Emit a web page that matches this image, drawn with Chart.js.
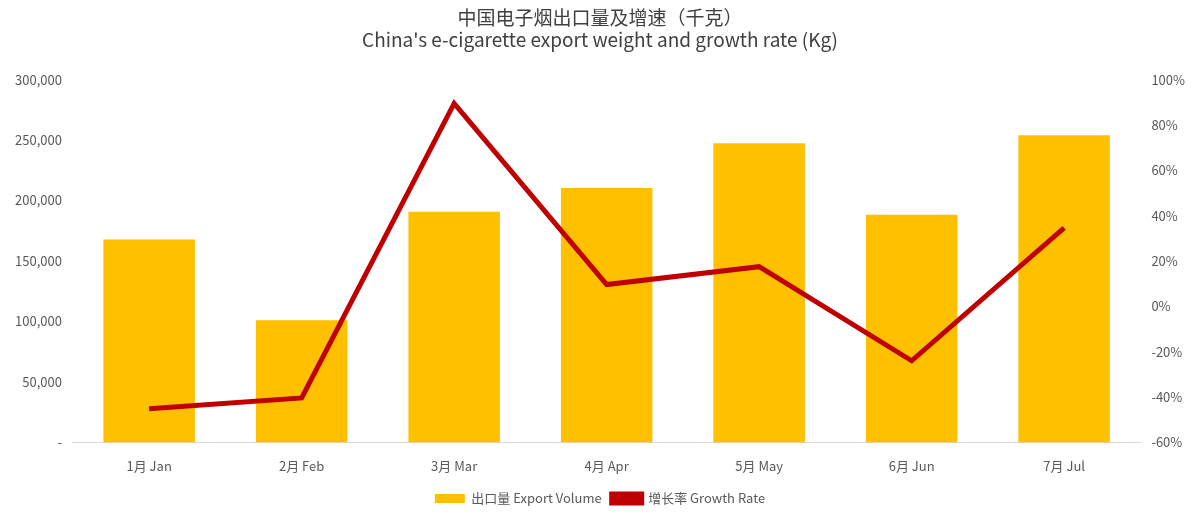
<!DOCTYPE html>
<html><head><meta charset="utf-8">
<script src="https://cdn.jsdelivr.net/npm/chart.js@4"></script>
<style>body{margin:0;background:#fff}#w{width:1200px;height:515px}</style>
</head><body><div id="w"><canvas id="c"></canvas></div>
<script>
const categories=["1月 Jan","2月 Feb","3月 Mar","4月 Apr","5月 May","6月 Jun","7月 Jul"];
const exportVolume=[167700,101000,190700,210400,247400,188200,254000];
const growthRate=[-45.2,-40.4,89.5,9.6,17.5,-24,34.6];
const font="'Noto Sans CJK SC','Noto Sans',sans-serif";
Chart.defaults.font.family=font;
Chart.defaults.color='#595959';
new Chart(document.getElementById('c'),{
type:'bar',
data:{labels:categories,datasets:[
{type:'line',label:'增长率 Growth Rate',data:growthRate,yAxisID:'y1',borderColor:'#C00000',backgroundColor:'#C00000',borderWidth:5,pointRadius:0,tension:0,order:0},
{type:'bar',label:'出口量 Export Volume',data:exportVolume,yAxisID:'y',backgroundColor:'#FFC000',categoryPercentage:1,barPercentage:0.6,order:1}
]},
options:{responsive:true,maintainAspectRatio:false,animation:false,
layout:{padding:{left:12,right:12,top:0,bottom:0}},
plugins:{
title:{display:true,text:['中国电子烟出口量及增速（千克）',"China's e-cigarette export weight and growth rate (Kg)"],font:{size:19,weight:'normal'},color:'#404040',padding:{top:6,bottom:28},lineHeight:1.3},
legend:{position:'bottom',reverse:true,labels:{boxWidth:30,boxHeight:9,font:{size:13},padding:10}},
tooltip:{enabled:false}},
scales:{
x:{grid:{display:false},border:{color:'#d9d9d9'},ticks:{font:{size:13},padding:8}},
y:{min:0,max:300000,ticks:{stepSize:50000,font:{size:13},callback:v=>v===0?'-':v.toLocaleString('en-US')},grid:{display:false},border:{display:false}},
y1:{position:'right',min:-60,max:100,ticks:{stepSize:20,font:{size:13},callback:v=>v+'%'},grid:{display:false},border:{display:false}}
}}
});
</script></body></html>
